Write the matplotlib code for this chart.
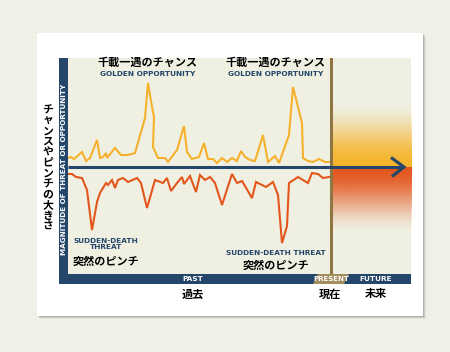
import numpy as np
import matplotlib
matplotlib.use("Agg")
import matplotlib.pyplot as plt
from matplotlib.patches import Rectangle, Polygon

plt.rcParams['font.family'] = ['DejaVu Sans', 'Noto Sans CJK JP']

# ---- data (time units, signed magnitude: + opportunity, - threat) ----
opp_t = [0, 3, 6, 14, 18, 22, 29, 32, 35, 38, 39, 47, 53, 60, 67, 77, 80, 84, 86, 85,
         90, 97, 100, 109, 116, 119, 124, 131, 136, 140, 145, 149, 154, 159, 164, 169,
         173, 177, 182, 187, 195, 200, 207, 211, 221, 225, 234, 235, 240, 245, 251, 257, 261]
opp_v = [9, 10, 8, 15, 6, 9, 27, 9, 10, 14, 9, 19, 12, 12, 14, 49, 84, 60, 50, 20,
         9, 9, 5, 17, 41, 15, 8, 10, 24, 8, 8, 4, 9, 5, 9, 6,
         16, 10, 7, 6, 32, 5, 11, 4, 32, 80, 44, 9, 6, 5, 8, 5, 5]
thr_t = [0, 4, 8, 14, 19, 24, 29, 32, 38, 40, 44, 47, 50, 55, 60, 69, 73, 79, 87, 95,
         99, 103, 109, 114, 116, 122, 128, 132, 137, 142, 147, 154, 164, 169, 174, 184,
         188, 198, 205, 210, 214, 219, 221, 230, 240, 244, 250, 255, 261]
thr_v = [-7, -7, -10, -11, -23, -63, -35, -26, -16, -18, -13, -21, -13, -11, -15, -11, -16, -41, -13, -16,
         -11, -24, -16, -10, -17, -9, -25, -8, -13, -10, -16, -38, -7, -16, -14, -31,
         -15, -20, -15, -28, -76, -59, -16, -10, -16, -6, -7, -11, -10]
present_t = 263
t_max = 343

title_jp = "千載一遇のチャンス"
title_en = "GOLDEN OPPORTUNITY"
threat_en = "SUDDEN-DEATH THREAT"
threat_jp = "突然のピンチ"
y_label_en = "MAGNITUDE OF THREAT OR OPPORTUNITY"
y_label_jp = "チャンスやピンチの大きさ"
period_en = ["PAST", "PRESENT", "FUTURE"]
period_jp = ["過去", "現在", "未来"]

NAVY = "#24466a"
ORANGE = "#f6b12c"
RED = "#e3561c"
CREAM = "#f0f0e2"
BROWN = "#8f7643"
TAN = "#a38d5c"
JP = ['Noto Sans CJK JP', 'DejaVu Sans']

W, H = 450, 352
fig = plt.figure(figsize=(W / 100, H / 100), dpi=100)
fig.patch.set_facecolor("#f0f0e6")

lay = fig.add_axes([0, 0, 1, 1], zorder=0)
lay.set_xlim(0, W)
lay.set_ylim(H, 0)
lay.axis("off")

# card with shadow
for i, a in enumerate([0.10, 0.18, 0.28]):
    d = 3 - i
    lay.add_patch(Rectangle((37 + d, 33 + d), 386, 283, color="#707068", alpha=a, lw=0))
lay.add_patch(Rectangle((37, 33), 386, 283, color="white", lw=0))

# plot background
lay.add_patch(Rectangle((68, 58), 343, 216, color=CREAM, lw=0))
# left and bottom bars
lay.add_patch(Rectangle((59, 58), 9, 226, color=NAVY, lw=0))
lay.add_patch(Rectangle((59, 274), 352, 10, color=NAVY, lw=0))
lay.add_patch(Polygon([(313, 284), (318, 274), (349, 274), (344, 284)], closed=True, color=TAN, lw=0))

lay.text(63.8, 169, y_label_en, rotation=90, color="white", fontsize=5.2,
         fontweight="bold", ha="center", va="center")
# vertical Japanese label
for i, ch in enumerate(y_label_jp):
    lay.text(48, 110 + i * 10.6, ch, family=JP, fontsize=7.8, fontweight="bold",
             ha="center", va="center", color="black")

# period labels
lay.text(193, 279.3, period_en[0], color="white", fontsize=5.3, fontweight="bold", ha="center", va="center")
lay.text(331, 279.3, period_en[1], color="white", fontsize=5.0, fontweight="bold", ha="center", va="center",
         family=['Liberation Sans Narrow', 'DejaVu Sans Condensed', 'DejaVu Sans'])
lay.text(376, 279.3, period_en[2], color="white", fontsize=5.3, fontweight="bold", ha="center", va="center")
for x, s in zip([193, 330, 376], period_jp):
    lay.text(x, 294, s, family=JP, fontsize=8, fontweight="bold", ha="center", va="center", color="black")

# annotations
for x in [148, 276]:
    lay.text(x, 62, title_jp, family=JP, fontsize=8, fontweight="bold", ha="center", va="center", color="black")
    lay.text(x, 73.5, title_en, fontsize=5.3, fontweight="bold", ha="center", va="center", color=NAVY)
lay.text(106, 244, "SUDDEN-DEATH\nTHREAT", fontsize=5.3, fontweight="bold", ha="center", va="center",
         color=NAVY, linespacing=1.05)
lay.text(106, 261, threat_jp, family=JP, fontsize=8, fontweight="bold", ha="center", va="center", color="black")
lay.text(276, 253, threat_en, fontsize=5.3, fontweight="bold", ha="center", va="center", color=NAVY)
lay.text(276, 265, threat_jp, family=JP, fontsize=8, fontweight="bold", ha="center", va="center", color="black")

# ---- data axes ----
ax = fig.add_axes([68 / W, 1 - 274 / H, 343 / W, 216 / H], zorder=1)
ax.patch.set_alpha(0)
ax.set_xlim(0, t_max)
ax.set_ylim(-107, 109)
ax.axis("off")


def smooth(u):
    return u * u * (3 - 2 * u)


# future gradients
n = 200
u = np.linspace(0, 1, n)
top = np.zeros((n, 2, 4))
top[..., :3] = np.array([246, 180, 42]) / 255
top[..., 3] = smooth(u)[:, None] ** 0.9
ax.imshow(top, extent=[present_t + 1.5, t_max, 0, 64], origin="upper", aspect="auto", zorder=1)
bot = np.zeros((n, 2, 4))
bot[..., :3] = np.array([227, 86, 30]) / 255
bot[..., 3] = smooth(u[::-1])[:, None] ** 0.9
ax.imshow(bot, extent=[present_t + 1.5, t_max, -66, 0], origin="upper", aspect="auto", zorder=1)

ax.plot(opp_t, opp_v, color=ORANGE, lw=1.5, zorder=3, solid_joinstyle="miter")
ax.plot(thr_t, thr_v, color=RED, lw=1.5, zorder=3, solid_joinstyle="miter")
ax.axvline(present_t, color=BROWN, lw=2.2, zorder=4)

ax.plot([0, 335.5], [0, 0], color=NAVY, lw=2.2, zorder=5, solid_capstyle="butt")
ax.plot([323, 336, 324], [9.5, 0, -9.5], color=NAVY, lw=2.2, zorder=5,
        solid_joinstyle="miter", solid_capstyle="butt")

fig.savefig("out.png", dpi=100, facecolor=fig.get_facecolor())
